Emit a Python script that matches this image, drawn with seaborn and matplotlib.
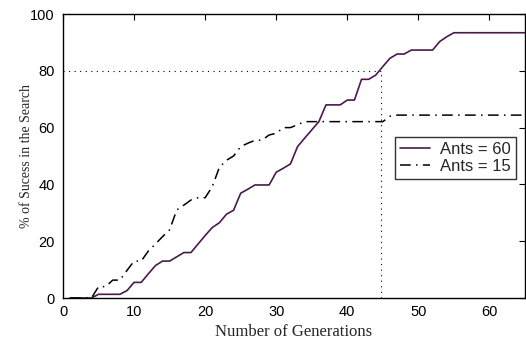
import matplotlib
matplotlib.use("Agg")
import matplotlib.pyplot as plt
import seaborn as sns
import pandas as pd

generations = list(range(1, 66))
ants60 = [0, 0, 0, 0, 1.3, 1.3, 1.3, 1.3, 2.6, 5.5,
          5.5, 8.5, 11.4, 13.0, 13.0, 14.5, 16.0, 16.0, 19.0, 22.0,
          24.8, 26.5, 29.5, 30.9, 36.9, 38.3, 39.8, 39.8, 39.8, 44.3,
          45.7, 47.2, 53.3, 56.3, 59.2, 62.1, 68.0, 68.0, 68.0, 69.7,
          69.7, 77.0, 77.0, 78.5, 81.5, 84.4, 85.9, 85.9, 87.3, 87.3,
          87.3, 87.3, 90.3, 92.0, 93.4, 93.4, 93.4, 93.4, 93.4, 93.4,
          93.4, 93.4, 93.4, 93.4, 93.4]
ants15 = [0, 0, 0, 0, 4.0, 4.0, 6.3, 6.3, 9.7, 13.0,
          13.0, 16.5, 19.0, 21.6, 24.0, 31.0, 32.7, 34.5, 35.3, 35.3,
          39.2, 46.0, 48.5, 50.0, 53.3, 54.5, 55.5, 55.6, 57.4, 58.0,
          60.0, 60.0, 61.0, 62.1, 62.1, 62.1, 62.1, 62.1, 62.1, 62.1,
          62.1, 62.1, 62.1, 62.1, 62.1, 64.0, 64.4, 64.4, 64.4, 64.4,
          64.4, 64.4, 64.4, 64.4, 64.4, 64.4, 64.4, 64.4, 64.4, 64.4,
          64.4, 64.4, 64.4, 64.4, 64.4]
labels = ["Ants = 60", "Ants = 15"]
target_level = 80
target_gen = 44.7
x_ticks = [0, 10, 20, 30, 40, 50, 60]
y_ticks = [0, 20, 40, 60, 80, 100]

sns.set_style("white")
plt.rcParams["font.family"] = ["Liberation Sans", "DejaVu Sans"]

df60 = pd.DataFrame({"gen": generations, "val": ants60})
df15 = pd.DataFrame({"gen": generations, "val": ants15})

fig = plt.figure(figsize=(5.26, 3.4), dpi=100)
ax = fig.add_axes([63 / 526, 1 - 298 / 340, 462 / 526, 284 / 340])

sns.lineplot(data=df60, x="gen", y="val", ax=ax, color="#4a1a4c",
             linewidth=1.2, label=labels[0])
sns.lineplot(data=df15, x="gen", y="val", ax=ax, color="black",
             linewidth=1.1, label=labels[1])
ax.lines[1].set_dashes([7, 3.5, 1, 3.5])

ax.plot([0, target_gen], [target_level, target_level], color="black",
        linestyle=(0, (1, 4)), linewidth=0.8)
ax.plot([target_gen, target_gen], [0, target_level], color="black",
        linestyle=(0, (1, 4)), linewidth=0.8)

ax.set_xlim(0, 65)
ax.set_ylim(0, 100)
ax.set_xticks(x_ticks)
ax.set_yticks(y_ticks)
ax.tick_params(direction="in", top=True, right=True, length=4, width=0.8,
               labelsize=10.5, colors="black")
ax.tick_params(axis="x", pad=5)
ax.tick_params(axis="y", pad=6)
for s in ax.spines.values():
    s.set_color("black")
    s.set_linewidth(1.0)

ax.set_xlabel("Number of Generations", family=["Liberation Serif"],
              fontsize=12, labelpad=3.5)
ax.set_ylabel("% of Sucess in the Search", family=["Liberation Serif"],
              fontsize=10, labelpad=-2)

leg = ax.legend(loc="upper right", bbox_to_anchor=(0.98, 0.567),
                fontsize=12, frameon=True, fancybox=False,
                edgecolor="black", borderpad=0.3, handlelength=1.8,
                handletextpad=0.6, labelspacing=0.1, borderaxespad=0)
leg.get_frame().set_linewidth(1.0)

fig.savefig("out.png", dpi=100)
